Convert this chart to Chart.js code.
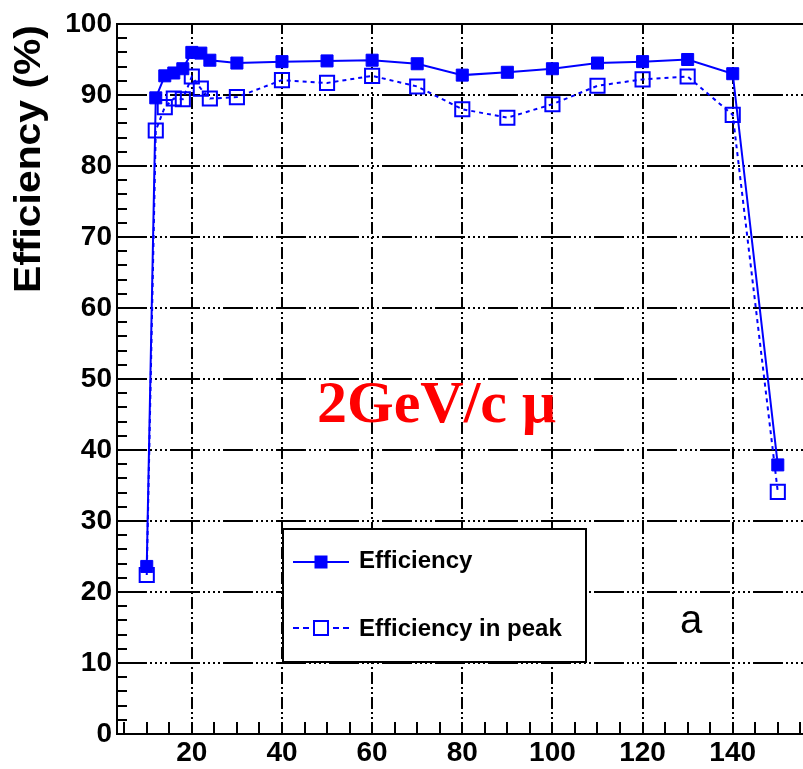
<!DOCTYPE html>
<html>
<head>
<meta charset="utf-8">
<script src="https://cdn.jsdelivr.net/npm/chart.js@4.4.0/dist/chart.umd.min.js"></script>
<style>
  html, body { margin: 0; padding: 0; background: #fff; overflow: hidden; }
  #wrap { width: 820px; height: 769px; }
</style>
</head>
<body>
<div id="wrap"><canvas id="c" width="820" height="769"></canvas></div>
<script>
// ---- data ----
const thresholds = [10, 12, 14, 16, 18, 20, 22, 24, 30, 40, 50, 60, 70, 80, 90, 100, 110, 120, 130, 140, 150];
const efficiency = [23.6, 89.6, 92.7, 93.1, 93.7, 96.0, 95.9, 94.9, 94.5, 94.7, 94.8, 94.9, 94.4, 92.8, 93.2, 93.7, 94.5, 94.7, 95.0, 93.0, 37.9];
const efficiencyInPeak = [22.4, 85.0, 88.3, 89.5, 89.4, 92.6, 90.9, 89.5, 89.7, 92.1, 91.7, 92.7, 91.2, 88.0, 86.8, 88.7, 91.3, 92.2, 92.6, 87.2, 34.1];
const xTickLabels = [20, 40, 60, 80, 100, 120, 140];
const yTickLabels = [0, 10, 20, 30, 40, 50, 60, 70, 80, 90, 100];
const xMinorStep = 5;
const yMinorStep = 2;
const seriesNames = ['Efficiency', 'Efficiency in peak'];
const yTitle = 'Efficiency (%)';
const annotationText = '2GeV/c \u03bc';
const panelLabel = 'a';

const BLUE = '#0000ff';
const SANS = '"Liberation Sans", Arial, Helvetica, sans-serif';
const SERIF = '"Liberation Serif", "Times New Roman", serif';

const toXY = (xs, ys) => xs.map((x, i) => ({ x: x, y: ys[i] }));

const decorPlugin = {
  id: 'decor',
  beforeDatasetsDraw(chart) {
    const ctx = chart.ctx;
    const a = chart.chartArea;
    const xs = chart.scales.x, ys = chart.scales.y;
    ctx.save();
    ctx.beginPath();
    ctx.rect(a.left, a.top, a.right - a.left, a.bottom - a.top);
    ctx.clip();
    ctx.strokeStyle = '#000';
    ctx.lineWidth = 2;
    // horizontal grid lines
    ctx.setLineDash([30, 3, 2, 3, 2, 3, 2, 3, 2, 3]);
    yTickLabels.forEach(v => {
      const py = Math.round(ys.getPixelForValue(v));
      ctx.beginPath(); ctx.moveTo(a.left, py); ctx.lineTo(a.right, py); ctx.stroke();
    });
    // vertical grid lines
    ctx.setLineDash([12, 3, 2, 3, 2, 3]);
    xTickLabels.forEach(v => {
      const px = Math.round(xs.getPixelForValue(v));
      ctx.beginPath(); ctx.moveTo(px, a.bottom); ctx.lineTo(px, a.top); ctx.stroke();
    });
    ctx.setLineDash([]);
    // minor ticks on y
    for (let v = 0; v <= 100; v += yMinorStep) {
      const py = Math.round(ys.getPixelForValue(v));
      ctx.beginPath(); ctx.moveTo(a.left, py); ctx.lineTo(a.left + 10, py); ctx.stroke();
    }
    // minor ticks on x
    for (let v = 0; v <= 160; v += xMinorStep) {
      if (v < xs.min || v > xs.max) continue;
      const px = Math.round(xs.getPixelForValue(v));
      ctx.beginPath(); ctx.moveTo(px, a.bottom); ctx.lineTo(px, a.bottom - 12); ctx.stroke();
    }
    ctx.restore();
    // frame
    ctx.save();
    ctx.strokeStyle = '#000';
    ctx.lineWidth = 2;
    ctx.strokeRect(a.left, a.top, a.right - a.left, a.bottom - a.top);
    ctx.restore();
  },
  afterDatasetsDraw(chart) {
    const ctx = chart.ctx;
    ctx.save();
    // legend box
    ctx.fillStyle = '#fff';
    ctx.fillRect(283, 529, 303, 133);
    ctx.strokeStyle = '#000';
    ctx.lineWidth = 2;
    ctx.strokeRect(283, 529, 303, 133);
    // entry 1
    ctx.strokeStyle = BLUE;
    ctx.lineWidth = 2;
    ctx.beginPath(); ctx.moveTo(293, 562); ctx.lineTo(349, 562); ctx.stroke();
    ctx.fillStyle = BLUE;
    ctx.fillRect(314.5, 555.5, 13, 13);
    // entry 2
    ctx.setLineDash([6, 4]);
    ctx.beginPath(); ctx.moveTo(293, 628); ctx.lineTo(349, 628); ctx.stroke();
    ctx.setLineDash([]);
    ctx.fillStyle = '#fff';
    ctx.fillRect(314, 621, 14, 14);
    ctx.strokeRect(314, 621, 14, 14);
    ctx.fillStyle = '#000';
    ctx.font = 'bold 24px ' + SANS;
    ctx.textAlign = 'left';
    ctx.textBaseline = 'middle';
    ctx.fillText(seriesNames[0], 359, 561);
    ctx.fillText(seriesNames[1], 359, 629);
    // panel label
    ctx.font = '40px ' + SANS;
    ctx.textAlign = 'center';
    ctx.textBaseline = 'alphabetic';
    ctx.fillText(panelLabel, 691, 633);
    // red annotation
    ctx.fillStyle = '#ff0000';
    ctx.font = 'bold 60px ' + SERIF;
    ctx.textAlign = 'left';
    ctx.fillText(annotationText, 317, 422);
    // y title
    ctx.fillStyle = '#000';
    ctx.translate(30.5, 159);
    ctx.rotate(-Math.PI / 2);
    ctx.scale(1.135, 1);
    ctx.font = 'bold 36px ' + SANS;
    ctx.textAlign = 'center';
    ctx.textBaseline = 'middle';
    ctx.fillText(yTitle, 0, 0);
    ctx.restore();
  }
};

new Chart(document.getElementById('c'), {
  type: 'line',
  data: {
    datasets: [
      {
        label: seriesNames[1],
        data: toXY(thresholds, efficiencyInPeak),
        borderColor: BLUE,
        borderWidth: 2,
        borderDash: [4, 4],
        pointStyle: 'rect',
        pointRadius: 10,
        pointBorderWidth: 2,
        pointBorderColor: BLUE,
        pointBackgroundColor: 'rgba(0,0,0,0)',
        tension: 0,
        fill: false
      },
      {
        label: seriesNames[0],
        data: toXY(thresholds, efficiency),
        borderColor: BLUE,
        borderWidth: 2,
        pointStyle: 'rect',
        pointRadius: 8.5,
        pointBorderWidth: 1,
        pointBorderColor: BLUE,
        pointBackgroundColor: BLUE,
        tension: 0,
        fill: false
      }
    ]
  },
  options: {
    responsive: false,
    animation: false,
    events: [],
    layout: { padding: { top: 24, right: 8, left: 0, bottom: 0 } },
    plugins: { legend: { display: false }, tooltip: { enabled: false } },
    scales: {
      x: {
        type: 'linear',
        min: 3.4,
        max: 156.7,
        afterBuildTicks: s => { s.ticks = xTickLabels.map(v => ({ value: v })); },
        afterFit: s => { s.height = 35; },
        grid: { display: false, drawTicks: false },
        border: { display: false },
        ticks: { color: '#000', font: { family: SANS, size: 28, weight: 'bold' }, padding: 2, maxRotation: 0, autoSkip: false }
      },
      y: {
        type: 'linear',
        min: 0,
        max: 100,
        afterBuildTicks: s => { s.ticks = yTickLabels.map(v => ({ value: v })); },
        afterFit: s => { s.width = 117; },
        grid: { display: false, drawTicks: false },
        border: { display: false },
        ticks: { color: '#000', font: { family: SANS, size: 28, weight: 'bold' }, padding: 5, autoSkip: false }
      }
    }
  },
  plugins: [decorPlugin]
});
</script>
</body>
</html>
